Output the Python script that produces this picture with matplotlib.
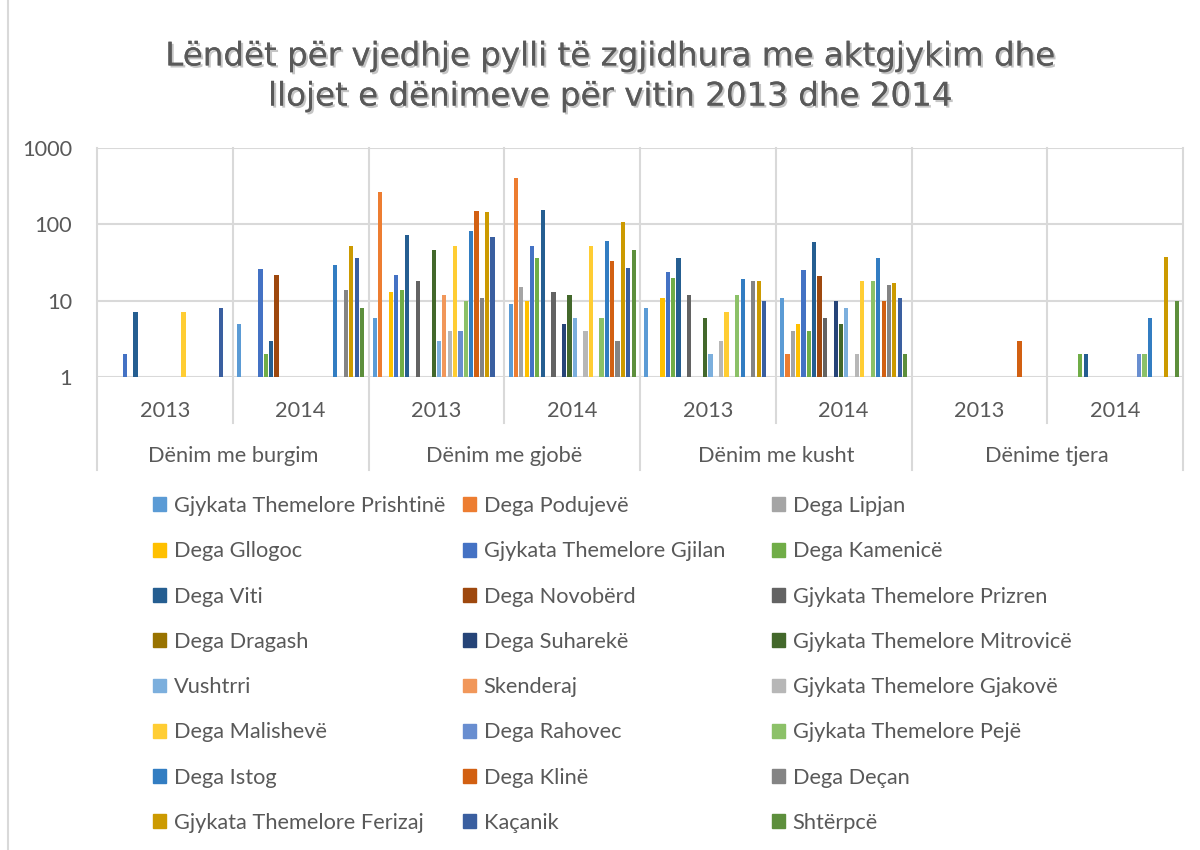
import numpy as np
import matplotlib.pyplot as plt
import matplotlib.patheffects as pe
from matplotlib.patches import Patch

plt.rcParams['font.family'] = ['Lato', 'DejaVu Sans']

# kategorite dhe vitet (8 grupe ne bosht)
kategorite = ['Dënim me burgim', 'Dënim me gjobë', 'Dënim me kusht', 'Dënime tjera']
vitet = ['2013', '2014']

seri = ['Gjykata Themelore Prishtinë', 'Dega Podujevë', 'Dega Lipjan',
        'Dega Gllogoc', 'Gjykata Themelore Gjilan', 'Dega Kamenicë',
        'Dega Viti', 'Dega Novobërd', 'Gjykata Themelore Prizren',
        'Dega Dragash', 'Dega Suharekë', 'Gjykata Themelore Mitrovicë',
        'Vushtrri', 'Skenderaj', 'Gjykata Themelore Gjakovë',
        'Dega Malishevë', 'Dega Rahovec', 'Gjykata Themelore Pejë',
        'Dega Istog', 'Dega Klinë', 'Dega Deçan',
        'Gjykata Themelore Ferizaj', 'Kaçanik', 'Shtërpcë']

ngjyrat = ['#5B9BD5', '#ED7D31', '#A5A5A5', '#FFC000', '#4472C4', '#70AD47',
           '#255E91', '#9E480E', '#636363', '#997300', '#264478', '#43682B',
           '#7CAFDD', '#F1975A', '#B7B7B7', '#FFCD33', '#698ED0', '#8CC168',
           '#327DC2', '#D26012', '#848484', '#CC9A00', '#3A5FA0', '#5D8F3C']

# vlerat: burgim 2013, 2014, gjobe 2013, 2014, kusht 2013, 2014, tjera 2013, 2014
prishtine = [0, 5, 6, 9, 8, 11, 0, 0]
podujeve = [0, 0, 265, 400, 0, 2, 0, 0]
lipjan = [0, 0, 0, 15, 0, 4, 0, 0]
gllogoc = [0, 0, 13, 10, 11, 5, 0, 0]
gjilan = [2, 26, 22, 52, 24, 25, 0, 0]
kamenice = [0, 2, 14, 36, 20, 4, 0, 2]
viti = [7, 3, 72, 155, 36, 58, 0, 2]
novoberd = [0, 22, 0, 0, 0, 21, 0, 0]
prizren = [0, 0, 18, 13, 12, 6, 0, 0]
dragash = [0, 0, 0, 0, 0, 0, 0, 0]
suhareke = [0, 0, 0, 5, 0, 10, 0, 0]
mitrovice = [0, 0, 46, 12, 6, 5, 0, 0]
vushtrri = [0, 0, 3, 6, 2, 8, 0, 0]
skenderaj = [0, 0, 12, 0, 0, 0, 0, 0]
gjakove = [0, 0, 4, 4, 3, 2, 0, 0]
malisheve = [7, 0, 52, 52, 7, 18, 0, 0]
rahovec = [0, 0, 4, 0, 0, 0, 0, 2]
peje = [0, 0, 10, 6, 12, 18, 0, 2]
istog = [0, 29, 82, 60, 19, 36, 0, 6]
kline = [0, 0, 150, 33, 0, 10, 3, 0]
decan = [0, 14, 11, 3, 18, 16, 0, 0]
ferizaj = [0, 52, 147, 108, 18, 17, 0, 37]
kacanik = [8, 36, 68, 27, 10, 11, 0, 0]
shterpce = [0, 8, 0, 46, 0, 2, 0, 10]

vlerat = [prishtine, podujeve, lipjan, gllogoc, gjilan, kamenice, viti,
          novoberd, prizren, dragash, suhareke, mitrovice, vushtrri,
          skenderaj, gjakove, malisheve, rahovec, peje, istog, kline,
          decan, ferizaj, kacanik, shterpce]

gri = '#595959'
vija = '#D9D9D9'
fs = 15.7

fig = plt.figure(figsize=(12, 8.5), dpi=100)
ax = fig.add_axes([97 / 1200, 1 - 377 / 850, 1086 / 1200, 229 / 850])

n = len(seri)
grupet = np.arange(8)
slot = 1 / 25.4
for k in range(n):
    v = np.array(vlerat[k], dtype=float)
    v[v == 0] = np.nan
    ax.bar(grupet + (k - (n - 1) / 2) * slot, v, width=slot * 0.78,
           bottom=0, color=ngjyrat[k], label=seri[k], zorder=3)

ax.set_yscale('log')
ax.set_ylim(1, 1000)
ax.set_xlim(-0.5, 7.5)
ax.set_yticks([1, 10, 100, 1000])
ax.set_yticklabels(['1', '10', '100', '1000'])
ax.minorticks_off()
ax.tick_params(axis='y', length=0, pad=18, labelsize=fs, labelcolor=gri)
ax.set_xticks([])
ax.yaxis.grid(True, color=vija, linewidth=1.5, zorder=0)
for s in ax.spines.values():
    s.set_visible(False)

# vijat vertikale dhe etiketat e boshtit me dy nivele
tr = ax.get_xaxis_transform()
for b in np.arange(-0.5, 8, 1):
    poshte = -0.406 if int(b + 0.5) % 2 == 0 else -0.2
    ax.plot([b, b], [1, poshte], color=vija, linewidth=1.5, transform=tr,
            clip_on=False, zorder=1)
for i in range(8):
    ax.text(i, -0.148, vitet[i % 2], transform=tr, ha='center', va='center',
            fontsize=fs, color=gri)
for j, kat in enumerate(kategorite):
    ax.text(2 * j + 0.5, -0.343, kat, transform=tr, ha='center', va='center',
            fontsize=fs, color=gri)

# titulli
titulli = 'Lëndët për vjedhje pylli të zgjidhura me aktgjykim dhe\nllojet e dënimeve për vitin 2013 dhe 2014'
fig.text(610 / 1200, 1 - 77 / 850, titulli, ha='center', va='center',
         fontsize=23.4, color=gri, family=['DejaVu Sans'], linespacing=1.38,
         path_effects=[pe.withSimplePatchShadow(offset=(1.5, -1.5), alpha=0.25),
                       pe.Normal()])

# legjenda ne tri kolona
kolonat_x = [153, 463, 772]
for c in range(3):
    idx = list(range(c, n, 3))
    handles = [Patch(color=ngjyrat[k]) for k in idx]
    fig.legend(handles, [seri[k] for k in idx], loc='upper left',
               bbox_to_anchor=(kolonat_x[c] / 1200, 1 - 496 / 850),
               frameon=False, fontsize=fs, labelcolor=gri,
               handlelength=0.6, handleheight=0.6, handletextpad=0.35,
               labelspacing=1.16, borderpad=0, borderaxespad=0)

fig.add_artist(plt.Line2D([8 / 1200, 8 / 1200], [0, 1], color=vija,
                          linewidth=1.5, transform=fig.transFigure))

plt.savefig('out.png', dpi=100)
